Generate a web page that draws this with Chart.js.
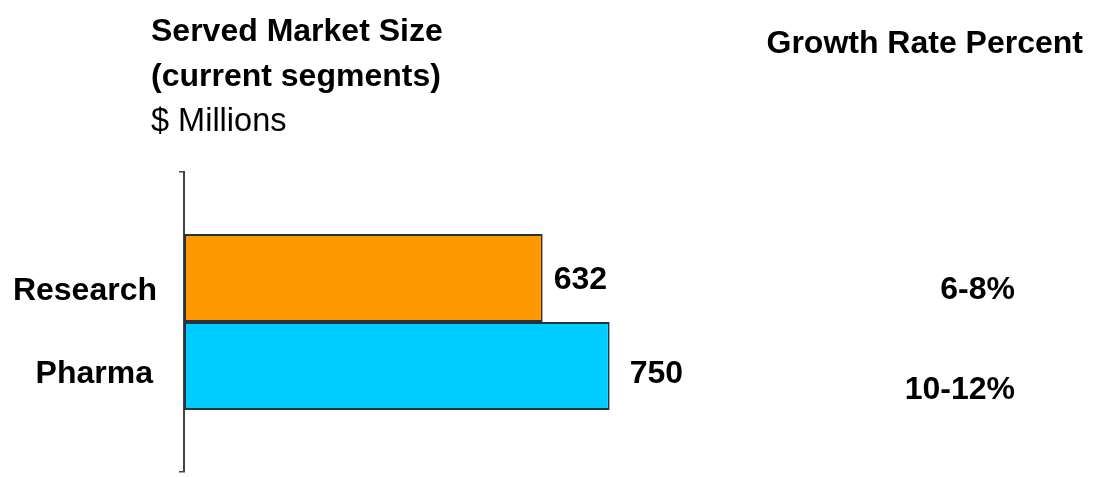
<!DOCTYPE html>
<html>
<head>
<meta charset="utf-8">
<script src="https://cdn.jsdelivr.net/npm/chart.js@4.4.1/dist/chart.umd.min.js"></script>
<style>
  html, body { margin: 0; padding: 0; background: #ffffff; }
  #wrap { width: 1093px; height: 477px; position: relative; }
</style>
</head>
<body>
<div id="wrap"><canvas id="c" width="1093" height="477"></canvas></div>
<script>
// Served market by segment ($ millions) and expected growth
const segments = ["Research", "Pharma"];
const marketSize = [632, 750];
const growthRates = ["6-8%", "10-12%"];
const barColors = ["#FF9900", "#00CCFF"];

const titleLines = ["Served Market Size", "(current segments)"];
const unitLabel = "$ Millions";
const growthHeading = "Growth Rate Percent";

const FONT = "'Liberation Sans', Arial, Helvetica, sans-serif";
const BOLD = "bold 32px " + FONT;
const PLAIN = "32.5px " + FONT;

// Text placed around the bars: headings, segment names, values, growth rates
const annotations = {
  id: "annotations",
  afterDatasetsDraw(chart) {
    const ctx = chart.ctx;
    ctx.save();
    ctx.fillStyle = "#000000";
    ctx.textBaseline = "middle";

    ctx.textAlign = "left";
    ctx.font = BOLD;
    ctx.fillText(titleLines[0], 151, 32);
    ctx.fillText(titleLines[1], 151, 77);
    ctx.font = PLAIN;
    ctx.fillText(unitLabel, 151, 122);

    ctx.textAlign = "right";
    ctx.font = BOLD;
    ctx.fillText(growthHeading, 1083, 44);

    const nameRight = [157, 153];
    const nameShift = [13, 8];
    const valueShift = [2, 8];
    const valueGap = [11, 20];
    const growthShift = [12, 24];
    chart.data.datasets.forEach((ds, i) => {
      const bar = chart.getDatasetMeta(i).data[0];
      ctx.font = BOLD;
      ctx.textAlign = "right";
      ctx.fillText(ds.label, nameRight[i], bar.y + nameShift[i]);
      ctx.textAlign = "left";
      ctx.fillText(String(ds.data[0]), bar.x + valueGap[i], bar.y + valueShift[i]);
      ctx.textAlign = "right";
      ctx.fillText(growthRates[i], 1015, bar.y + growthShift[i]);
    });
    ctx.restore();
  }
};

new Chart(document.getElementById("c"), {
  type: "bar",
  data: {
    labels: [""],
    datasets: segments.map((name, i) => ({
      label: name,
      data: [marketSize[i]],
      backgroundColor: barColors[i],
      borderColor: "#26343d",
      borderWidth: 2,
      borderSkipped: false,
      categoryPercentage: 0.587,
      barPercentage: 1.0
    }))
  },
  options: {
    indexAxis: "y",
    responsive: false,
    animation: false,
    events: [],
    layout: { padding: { left: 0, top: 172, right: 57.75, bottom: 5 } },
    plugins: {
      legend: { display: false },
      tooltip: { enabled: false },
      title: { display: false }
    },
    scales: {
      x: {
        display: false,
        min: 0,
        max: 1500
      },
      y: {
        offset: true,
        ticks: { display: false },
        grid: {
          offset: true,
          drawOnChartArea: false,
          drawTicks: true,
          tickLength: 5,
          color: "#444444",
          lineWidth: 1.5
        },
        border: { display: true, color: "#444444", width: 2 },
        afterFit(scale) { scale.width = 184; }
      }
    }
  },
  plugins: [annotations]
});
</script>
</body>
</html>
